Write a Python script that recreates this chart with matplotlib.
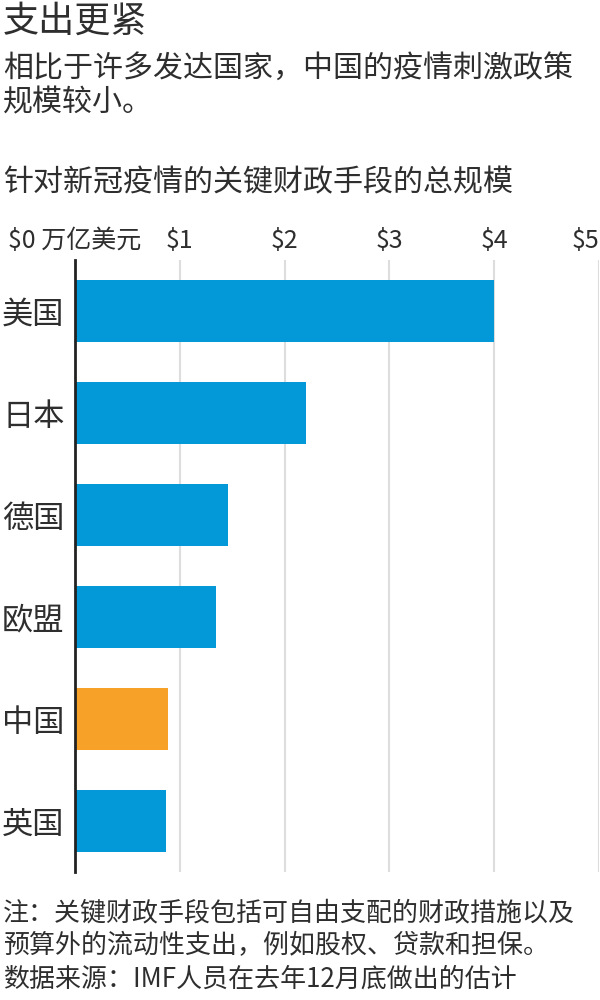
import matplotlib
matplotlib.use("Agg")
import matplotlib.pyplot as plt

plt.rcParams['font.family'] = ['Noto Sans CJK SC', 'DejaVu Sans']

countries = ["美国", "日本", "德国", "欧盟", "中国", "英国"]
values = [4.0, 2.2, 1.46, 1.35, 0.89, 0.87]
highlight = "中国"
tick_values = [0, 1, 2, 3, 4, 5]
tick_labels = ["$0 万亿美元", "$1", "$2", "$3", "$4", "$5"]

title = "支出更紧"
subtitle = ["相比于许多发达国家，中国的疫情刺激政策", "规模较小。"]
chart_title = "针对新冠疫情的关键财政手段的总规模"
notes = ["注：关键财政手段包括可自由支配的财政措施以及",
         "预算外的流动性支出，例如股权、贷款和担保。",
         "数据来源：IMF人员在去年12月底做出的估计"]

BLUE = "#0399d8"
ORANGE = "#f7a128"
TEXT = "#2e2e2e"

W, H = 600, 1000
fig = plt.figure(figsize=(6, 10), dpi=100)

def fy(px):
    return 1 - px / H

ax = fig.add_axes([75 / W, fy(872), (599 - 75) / W, (872 - 260) / H])
colors = [ORANGE if c == highlight else BLUE for c in countries]
ax.barh(range(len(countries)), values, height=0.6, color=colors, zorder=3)
ax.set_ylim(len(countries) - 0.5, -0.5)
ax.set_xlim(0, 5)
ax.set_yticks(range(len(countries)))
ax.set_yticklabels(countries, fontsize=22.5, color=TEXT)
ax.set_xticks(tick_values)
ax.set_xticklabels(tick_labels, fontsize=18, color=TEXT)
ax.xaxis.tick_top()
ax.tick_params(axis='x', length=0, pad=4)
ax.tick_params(axis='y', length=0, pad=0)
for lab in ax.get_yticklabels():
    lab.set_horizontalalignment('left')
    lab.set_x(-73 / (599 - 75))
xlabs = ax.get_xticklabels()
xlabs[-1].set_horizontalalignment('right')
ax.grid(axis='x', color='#dddddd', linewidth=1.5, zorder=0)
ax.grid(axis='y', visible=False)
for s in ['top', 'right', 'bottom']:
    ax.spines[s].set_visible(False)
ax.spines['left'].set_color('#222222')
ax.spines['left'].set_linewidth(2)
ax.spines['left'].set_zorder(4)
ax.set_facecolor('white')

fig.text(3 / W, fy(22), title, fontsize=26, color=TEXT, va='center', ha='left')
fig.text(3 / W, fy(68), subtitle[0], fontsize=21.6, color=TEXT, va='center', ha='left')
fig.text(3 / W, fy(103), subtitle[1], fontsize=21.6, color=TEXT, va='center', ha='left')
fig.text(3 / W, fy(183), chart_title, fontsize=21.6, color=TEXT, va='center', ha='left')
for i, n in enumerate(notes):
    fig.text(3 / W, fy(913 + 33 * i), n, fontsize=18.7, color=TEXT, va='center', ha='left')

fig.savefig("out.png", dpi=100, facecolor='white')
